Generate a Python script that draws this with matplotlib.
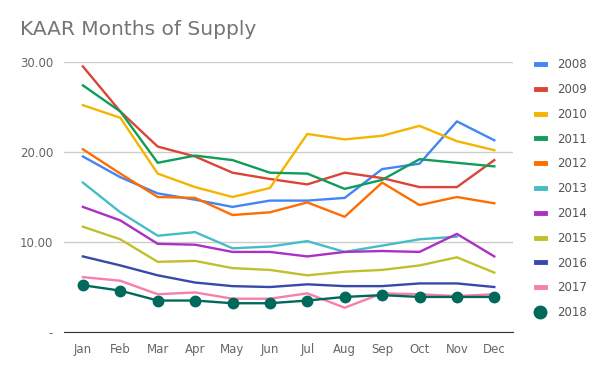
import numpy as np
import matplotlib.pyplot as plt
from matplotlib.lines import Line2D

months = ["Jan", "Feb", "Mar", "Apr", "May", "Jun", "Jul", "Aug", "Sep", "Oct", "Nov", "Dec"]
years = ["2008", "2009", "2010", "2011", "2012", "2013", "2014", "2015", "2016", "2017", "2018"]

y2008 = [19.5, 17.2, 15.4, 14.7, 13.9, 14.6, 14.6, 14.9, 18.1, 18.7, 23.4, 21.3]
y2009 = [29.5, 24.5, 20.6, 19.5, 17.7, 17.0, 16.4, 17.7, 17.1, 16.1, 16.1, 19.1]
y2010 = [25.2, 23.8, 17.6, 16.1, 15.0, 16.0, 22.0, 21.4, 21.8, 22.9, 21.2, 20.2]
y2011 = [27.4, 24.5, 18.8, 19.6, 19.1, 17.7, 17.6, 15.9, 16.9, 19.2, 18.8, 18.4]
y2012 = [20.3, 17.6, 15.0, 14.9, 13.0, 13.3, 14.4, 12.8, 16.6, 14.1, 15.0, 14.3]
y2013 = [16.6, 13.3, 10.7, 11.1, 9.3, 9.5, 10.1, 8.9, 9.6, 10.3, 10.6, np.nan]
y2014 = [13.9, 12.4, 9.8, 9.7, 8.9, 8.9, 8.4, 8.9, 9.0, 8.9, 10.9, 8.4]
y2015 = [11.7, 10.3, 7.8, 7.9, 7.1, 6.9, 6.3, 6.7, 6.9, 7.4, 8.3, 6.6]
y2016 = [8.4, 7.4, 6.3, 5.5, 5.1, 5.0, 5.3, 5.1, 5.1, 5.4, 5.4, 5.0]
y2017 = [6.1, 5.7, 4.2, 4.4, 3.7, 3.7, 4.3, 2.7, 4.3, 4.2, 4.0, 4.2]
y2018 = [5.2, 4.6, 3.5, 3.5, 3.2, 3.2, 3.5, 3.9, 4.1, 3.9, 3.9, 3.9]

series = [y2008, y2009, y2010, y2011, y2012, y2013, y2014, y2015, y2016, y2017, y2018]
colors = ["#4285F4", "#DB4437", "#F4B400", "#0F9D58", "#FF6D00", "#46BDC6",
          "#AB30C4", "#C0C02C", "#3949AB", "#F77FAA", "#00695C"]

fig = plt.figure(figsize=(6, 3.71), dpi=100)
ax = fig.add_axes([0.107, 0.105, 0.748, 0.728])

x = np.arange(len(months))
handles = []
for i in range(len(series)):
    if years[i] == "2018":
        ax.plot(x, series[i], color=colors[i], lw=1.7, marker="o", ms=7.5, zorder=3)
        handles.append(Line2D([], [], color=colors[i], marker="o", ms=9, lw=0))
    else:
        ax.plot(x, series[i], color=colors[i], lw=1.7)
        handles.append(Line2D([], [], color=colors[i], lw=3.5))

ax.set_xlim(-0.5, 11.5)
ax.set_ylim(0, 30)
ax.set_xticks(x)
ax.set_xticklabels(months)
ax.set_yticks([0, 10, 20, 30])
ax.set_yticklabels(["-", "10.00", "20.00", "30.00"])
ax.grid(axis="y", color="#cccccc", lw=1)
ax.set_axisbelow(True)
for s in ["top", "right", "left"]:
    ax.spines[s].set_visible(False)
ax.spines["bottom"].set_color("#333333")
ax.tick_params(length=0, labelsize=8.5, colors="#666666", pad=8)

fig.text(0.033, 0.92, "KAAR Months of Supply", fontsize=14.5, color="#757575", va="center")

fig.legend(handles, years, loc="upper left", bbox_to_anchor=(0.875, 0.872), frameon=False,
           fontsize=8.5, labelcolor="#555555", handlelength=0.8, labelspacing=1.0,
           handletextpad=1.0)

fig.savefig("out.png", dpi=100)
